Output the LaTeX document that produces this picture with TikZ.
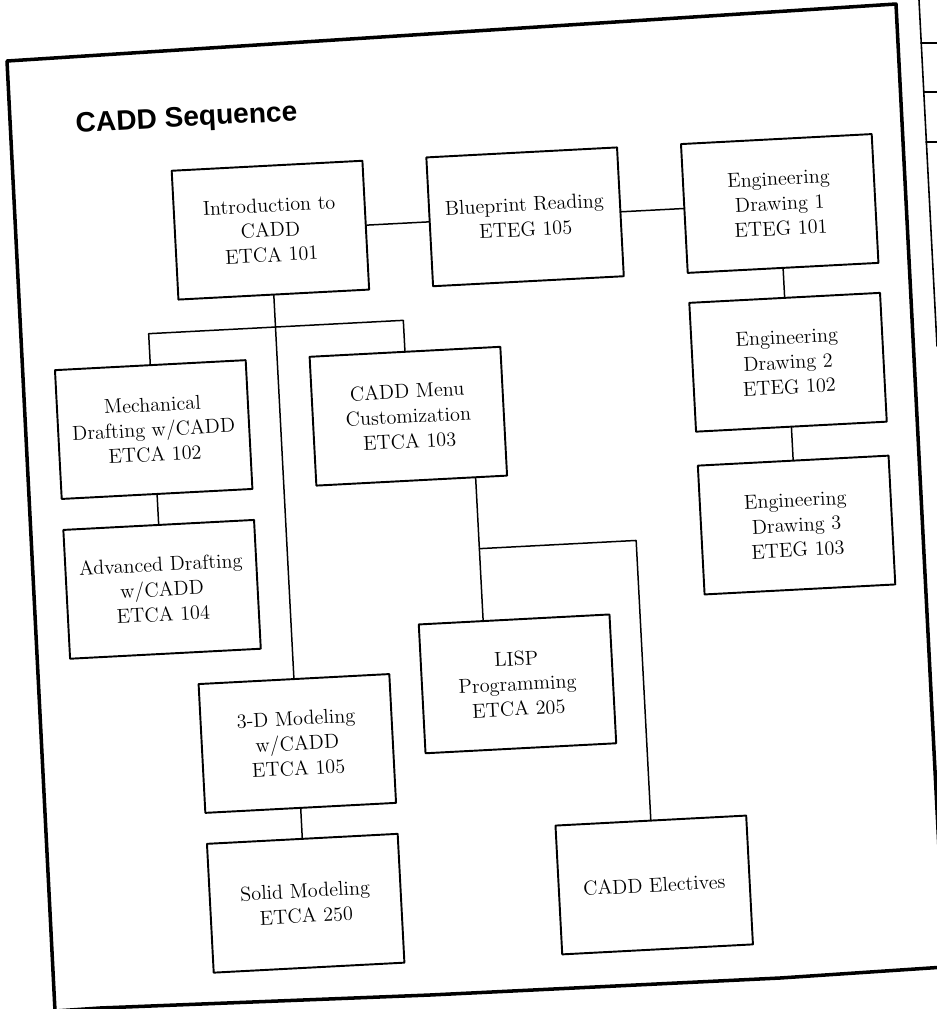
\documentclass[tikz,border=0pt]{standalone}
\usepackage{fontspec}
\newfontfamily\titolofont{Liberation Sans}
\usetikzlibrary{calc}
\begin{document}
\begin{tikzpicture}[x=0.02cm,y=-0.02cm,line join=round,line cap=round,
  corso/.style={draw,line width=1.1pt,minimum width=3.82cm,minimum height=2.58cm,
    align=center,inner sep=2pt,transform shape,font=\fontsize{11.5}{14.2}\selectfont},
  legame/.style={line width=0.85pt},
  cornice/.style={line width=2pt}]
  \useasboundingbox (0,0) rectangle (937,1009);
  \clip (0,0) rectangle (937,1009);

  % --- cornice della pagina, un po' storta e incurvata come nella scansione
  \draw[cornice] (55,1011) -- (7,61) -- (896,4) -- (945,967)
    -- (780,978) -- (430,995) -- (100,1008) -- cycle;

  % --- bordo della pagina accanto
  \draw[line width=0.9pt] (919,0) -- (937,346);
  \draw[line width=0.9pt] (921,43) -- (940,43) (924,92) -- (940,92) (926,142) -- (940,142);

  \begin{scope}[rotate=3]
    % --- titolo
    \node[anchor=base west,transform shape,font=\titolofont\bfseries\fontsize{16}{19}\selectfont]
      (titolo) at (63,136) {CADD Sequence};

    % --- i corsi
    \node[corso] (intro) at (258,244) {Introduction to\\CADD\\ETCA 101};
    \node[corso] (blue)  at (513,244) {Blueprint Reading\\ETEG 105};
    \node[corso] (eng1)  at (768,244) {Engineering\\Drawing 1\\ETEG 101};
    \node[corso] (eng2)  at (768,403) {Engineering\\Drawing 2\\ETEG 102};
    \node[corso] (eng3)  at (768,566) {Engineering\\Drawing 3\\ETEG 103};
    \node[corso] (mech)  at (131,437) {Mechanical\\Drafting w/CADD\\ETCA 102};
    \node[corso] (adv)   at (131,597) {Advanced Drafting\\w/CADD\\ETCA 104};
    \node[corso] (menu)  at (386,437) {CADD Menu\\Customization\\ETCA 103};
    \node[corso] (lisp)  at (481,710) {LISP\\Programming\\ETCA 205};
    \node[corso] (mod3d) at (258,758) {3-D Modeling\\w/CADD\\ETCA 105};
    \node[corso] (solid) at (258,918) {Solid Modeling\\ETCA 250};
    \node[corso] (elec)  at (607,918) {CADD Electives};

    % --- punti di diramazione
    \coordinate (brL) at (131,341);
    \coordinate (brR) at (386,341);
    \coordinate (jn)  at (450,573);
    \coordinate (jr)  at (607,573);

    % --- collegamenti
    \draw[legame] (intro.east) -- (blue.west);
    \draw[legame] (blue.east) -- (eng1.west);
    \draw[legame] (eng1.south) -- (eng2.north);
    \draw[legame] (eng2.south) -- (eng3.north);
    \draw[legame] (intro.south) -- (mod3d.north);
    \draw[legame] (mod3d.south) -- (solid.north);
    \draw[legame] (mech.north) -- (brL) -- (brR) -- (menu.north);
    \draw[legame] (mech.south) -- (adv.north);
    \draw[legame] ($(menu.south)+(64,0)$) -- (jn) -- ($(lisp.north)+(-31,0)$);
    \draw[legame] (jn) -- (jr) -- (elec.north);
  \end{scope}
\end{tikzpicture}
\end{document}
